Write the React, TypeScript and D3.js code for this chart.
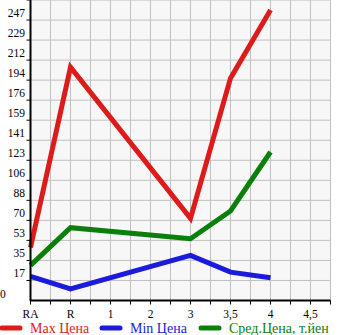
import React from "react";
import * as d3 from "d3";

const categories = ["RA", "R", "1", "2", "3", "3,5", "4", "4,5"];
const maxPrice: (number | null)[] = [46.7, 205.5, null, null, 72.3, 195.8, 255.8, null];
const minPrice: (number | null)[] = [21.2, 10.3, null, null, 39.7, 25, 20, null];
const avgPrice: (number | null)[] = [30.9, 64.1, null, null, 54.4, 78.8, 130.8, null];
const yTickLabels = ["0", "17", "35", "53", "70", "88", "106", "123", "141", "159", "176", "194", "212", "229", "247"];
const yStep = 247 / 14;

const series = [
  { name: "Max Цена", values: maxPrice, color: "#dd1b1b" },
  { name: "Min Цена", values: minPrice, color: "#1b1bdd" },
  { name: "Сред.Цена, т.йен", values: avgPrice, color: "#0a800a" },
];

export default function App() {
  const left = 30.5, right = 330.5, top = 0, bottom = 300.5;
  const x = d3.scaleLinear().domain([0, categories.length - 0.5]).range([left, right]);
  const y = d3.scaleLinear().domain([0, yStep * 15]).range([bottom, top]);
  const vGrid = d3.range(0, categories.length, 0.5);
  const hGrid = d3.range(1, 16);
  const line = d3
    .line<{ i: number; v: number }>()
    .x((d) => x(d.i))
    .y((d) => y(d.v));
  const legendX = [0, 100, 199];
  return (
    <svg width={345} height={335} style={{ position: "absolute", left: 0, top: 0 }} fontFamily="'Liberation Serif', 'DejaVu Serif', serif">
      <rect x={left} y={top} width={right - left} height={bottom - top} fill="#f7f7f7" />
      {vGrid.map((g) => (
        <line key={"v" + g} x1={x(g)} x2={x(g)} y1={top} y2={bottom} stroke="#c0c0c0" strokeWidth={1} />
      ))}
      {hGrid.map((k) => (
        <line key={"h" + k} x1={left} x2={right} y1={y(k * yStep)} y2={y(k * yStep)} stroke="#c0c0c0" strokeWidth={1} />
      ))}
      {series.map((s) => {
        const pts = s.values
          .map((v, i) => ({ i, v }))
          .filter((d) => d.v !== null) as { i: number; v: number }[];
        return (
          <path key={s.name} d={line(pts) || ""} fill="none" stroke={s.color} strokeWidth={5} strokeLinejoin="miter" strokeLinecap="butt" />
        );
      })}
      <line x1={left} x2={left} y1={top} y2={bottom + 0.5} stroke="#000" strokeWidth={2} />
      <line x1={left - 0.5} x2={right} y1={bottom} y2={bottom} stroke="#000" strokeWidth={2} />
      {hGrid.map((k) => (
        <line key={"yt" + k} x1={left - 4} x2={left} y1={y(k * yStep)} y2={y(k * yStep)} stroke="#000" strokeWidth={1} />
      ))}
      {vGrid.map((g) => (
        <line key={"xt" + g} x1={x(g)} x2={x(g)} y1={bottom} y2={bottom + 4} stroke="#000" strokeWidth={1} />
      ))}
      {yTickLabels.map((t, k) => (
        <text key={"yl" + k} x={k === 0 ? 0 : 25} y={y(k * yStep) - 3} textAnchor={k === 0 ? "start" : "end"} fontSize={11.5} fill="#000">
          {t}
        </text>
      ))}
      {categories.map((c, i) => (
        <text key={"xl" + c} x={x(i)} y={318} textAnchor="middle" fontSize={11.5} fill="#000">
          {c}
        </text>
      ))}
      {series.map((s, i) => (
        <g key={"lg" + s.name}>
          <line x1={legendX[i] + 2} x2={legendX[i] + 20} y1={328} y2={328} stroke={s.color} strokeWidth={5} strokeLinecap="round" />
          <text x={legendX[i] + 30} y={332.5} fontSize={14} fill={s.color}>
            {s.name}
          </text>
        </g>
      ))}
    </svg>
  );
}
